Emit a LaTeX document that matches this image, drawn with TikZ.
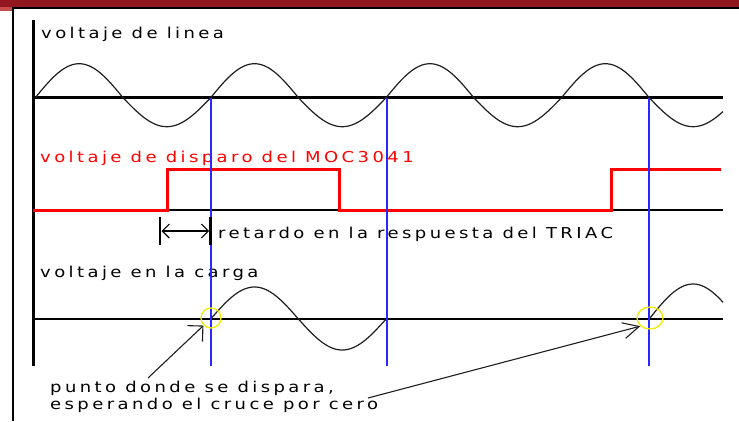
\documentclass[tikz,border=0pt]{standalone}
\usepackage{fontspec}
\setmainfont{DejaVu Sans}
\newfontfamily\lblfont[LetterSpace=19]{DejaVu Sans}
\usetikzlibrary{arrows.meta,shapes.geometric}
\definecolor{bandred}{RGB}{146,22,30}
\definecolor{bandlight}{RGB}{196,76,76}
\definecolor{trigred}{RGB}{255,0,0}
\definecolor{cursorblue}{RGB}{40,40,255}
\definecolor{wavegray}{RGB}{30,30,30}
\definecolor{ringyellow}{RGB}{245,235,0}
\newcommand\sxtext[1]{\scalebox{1.2}[1]{#1}}
\tikzset{
  lbl/.style={anchor=base west, inner sep=0pt, font=\lblfont\fontsize{15}{17}\selectfont},
  axisline/.style={line width=2.6pt, black},
  wave/.style={line width=1.2pt, wavegray, line join=round},
  trig/.style={line width=3pt, trigred},
  cursor/.style={line width=1.8pt, cursorblue},
  ring/.style={draw=ringyellow, line width=1.3pt, inner sep=0pt},
  pointer/.style={line width=1.1pt, wavegray},
}
\begin{document}
\begin{tikzpicture}[x=1pt,y=-1pt]
\useasboundingbox (0,0) rectangle (739,421);
% frame
\fill[bandred] (0,0) rectangle (739,6.5);
\fill[bandlight] (0,6.5) rectangle (12,10.5);
\draw[line width=2pt, black] (12,7.5) -- (739,7.5);
\draw[line width=1.6pt, black] (12.8,6.5) -- (12.8,421);
% main axes
\draw[line width=3pt, black] (33.5,20) -- (33.5,366);
\draw[axisline] (32,97.7) -- (723,97.7);
\draw[axisline] (32,210) -- (723,210);
\draw[axisline] (32,319) -- (723,319);
% line voltage
\draw[wave] plot[domain=35.3:723, samples=300]
  (\x, {97.7 - (sin((\x-35.3)*2.0525)>0 ? 34 : 29)*sin((\x-35.3)*2.0525)});
% trigger voltage
\draw[trig] (33,210) -- (167,210) -- (167,169) -- (339,169) -- (339,210)
  -- (611,210) -- (611,169) -- (721,169);
% load voltage
\draw[wave] plot[domain=210.7:386.1, samples=150]
  (\x, {319 - (sin((\x-210.7)*2.0525)>0 ? 32 : 31)*sin((\x-210.7)*2.0525)});
\draw[wave] plot[domain=649.2:723, samples=80]
  (\x, {319 - 35*sin((\x-649.2)*2.0525)});
% labels
\node[lbl] (tline) at (41,38) {\sxtext{voltaje de linea}};
\node[lbl, text=trigred] (ttrig) at (40,162) {\sxtext{voltaje de disparo del MOC3041}};
\node[lbl] (tdelay) at (218,238) {\sxtext{retardo en la respuesta del TRIAC}};
\node[lbl] (tload) at (40,277) {\sxtext{voltaje en la carga}};
\node[lbl] (tnote1) at (50,392) {\sxtext{punto donde se dispara,}};
\node[lbl] (tnote2) at (50,409) {\sxtext{esperando el cruce por cero}};
% blue cursors
\draw[cursor] (210.7,97.7) -- (210.7,366);
\draw[cursor] (386.6,97.7) -- (386.6,366);
\draw[cursor] (649.2,97.7) -- (649.2,366);
% delay marker
\draw[line width=2.6pt, black] (160,217) -- (160,245);
\draw[line width=2.6pt, black] (210.7,217) -- (210.7,245);
\coordinate (dl) at (161.5,231);
\coordinate (dr) at (209.2,231);
\draw[pointer, black, {Straight Barb[length=7pt,width=14pt]}-{Straight Barb[length=7pt,width=14pt]}] (dl) -- (dr);
% rings
\node[ring, circle, minimum size=20pt] (r1) at (211,318) {};
\node[ring, ellipse, minimum width=26pt, minimum height=22pt] (r2) at (650,318) {};
% pointers
\coordinate (p1) at (148,378);
\coordinate (p2) at (368,398);
\draw[pointer, -{Straight Barb[length=11pt,width=22pt]}] (p1) -- (r1.225);
\draw[pointer, -{Straight Barb[length=16pt,width=16pt]}] (p2) -- (r2.220);
\end{tikzpicture}
\end{document}
